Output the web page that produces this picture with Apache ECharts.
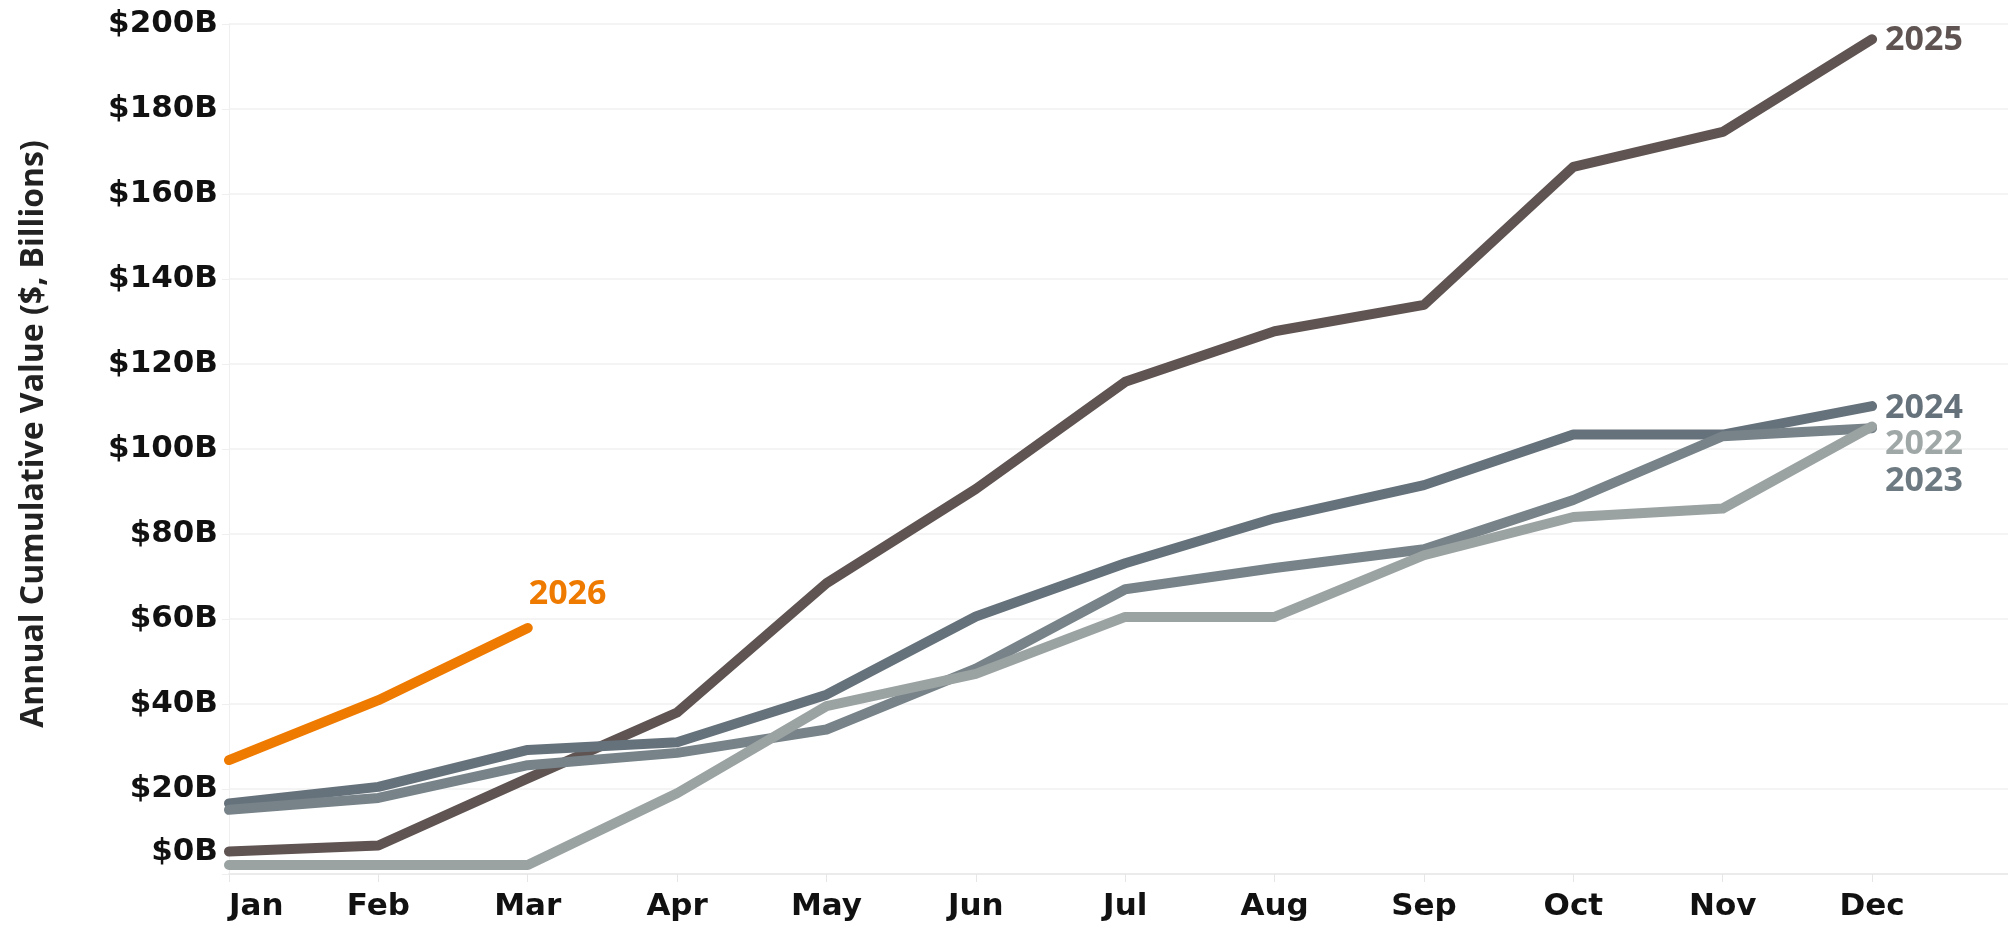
<!DOCTYPE html>
<html><head><meta charset="utf-8">
<script src="https://cdn.jsdelivr.net/npm/echarts@6/dist/echarts.min.js"></script>
<style>html,body{margin:0;padding:0;background:#fff}#c{width:2008px;height:926px}</style>
</head><body><div id="c"></div>
<script>
const months = ['Jan','Feb','Mar','Apr','May','Jun','Jul','Aug','Sep','Oct','Nov','Dec'];
const yTickValues = [0,20,40,60,80,100,120,140,160,180,200];
const years = ['2025','2024','2023','2022','2026'];
const v2022 = [2.1,2.1,2.1,19.0,39.5,47.1,60.5,60.5,75.0,84.0,86.0,105.3];
const v2023 = [15.1,17.9,25.6,28.5,34.0,48.3,67.0,72.0,76.4,88.0,103.0,104.9];
const v2024 = [16.6,20.5,29.2,31.0,42.2,60.6,73.1,83.7,91.5,103.4,103.4,110.1];
const v2025 = [5.3,6.7,22.5,38.0,68.4,90.6,115.8,127.7,133.9,166.4,174.6,196.4];
const v2026 = [26.8,40.9,57.9];

const lineColors = {'2025':'#5f5452','2024':'#66727b','2023':'#778389','2022':'#9ba2a2','2026':'#ef7a00'};
const labelColors = {'2025':'#5f5452','2024':'#66727b','2023':'#6d7a82','2022':'#a0a7a7','2026':'#ef7a00'};
const labelOffsets = {'2025':[13,1],'2024':[13,2],'2023':[13,53],'2022':[13,18],'2026':[1,-34]};
const valuesByYear = {'2025':v2025,'2024':v2024,'2023':v2023,'2022':v2022,'2026':v2026};

const chart = echarts.init(document.getElementById('c'), null, {renderer:'canvas'});
const series = years.map(y => ({
  name: y,
  type: 'line',
  data: valuesByYear[y].map((v,i)=>[i,v]),
  symbol: 'none',
  smooth: false,
  lineStyle: {width: 10, color: lineColors[y], cap: 'round', join: 'round'},
  itemStyle: {color: lineColors[y]},
  endLabel: {
    show: true,
    formatter: y,
    distance: 0,
    offset: labelOffsets[y],
    color: labelColors[y],
    fontFamily: 'Open Sans',
    fontWeight: 'bold',
    fontSize: 34
  },
  emphasis: {disabled: true},
  animation: false
}));

chart.setOption({
  animation: false,
  grid: {left: 229, right: 0, top: 24, bottom: 52, containLabel: false},
  xAxis: {
    type: 'value', min: 0, max: 11.91, interval: 1,
    axisLine: {show: true, lineStyle: {color: '#ebebeb', width: 2}},
    axisTick: {show: true, length: 8, lineStyle: {color: '#e6e6e6', width: 1}},
    splitLine: {show: false},
    axisLabel: {
      formatter: v => (Number.isInteger(v) && months[v]) ? months[v] : '',
      fontFamily: 'DejaVu Sans', fontWeight: 'bold', fontSize: 31, color: '#111',
      margin: 17, alignMinLabel: 'left', showMaxLabel: false
    }
  },
  yAxis: {
    type: 'value', min: yTickValues[0], max: yTickValues[yTickValues.length-1], interval: 20,
    axisLine: {show: true, lineStyle: {color: '#efefef', width: 1}},
    axisTick: {show: true, length: 7, lineStyle: {color: '#efefef'}},
    splitLine: {show: true, lineStyle: {color: '#f0f0f0', width: 1.5}},
    axisLabel: {
      formatter: v => v === 0 ? '{zero|$0B}' : '$' + v + 'B',
      fontFamily: 'DejaVu Sans', fontWeight: 'bold', fontSize: 31, color: '#111', margin: 11,
      rich: {zero: {fontFamily: 'DejaVu Sans', fontWeight: 'bold', fontSize: 31, color: '#111', padding: [0,0,44,0]}}
    }
  },
  graphic: [{
    type: 'text', x: 34, y: 434, rotation: Math.PI/2,
    style: {text: 'Annual Cumulative Value ($, Billions)', fill: '#222', font: 'bold 32px "Open Sans"', align: 'center', verticalAlign: 'middle'}
  }],
  series: series
});
</script>
</body></html>
